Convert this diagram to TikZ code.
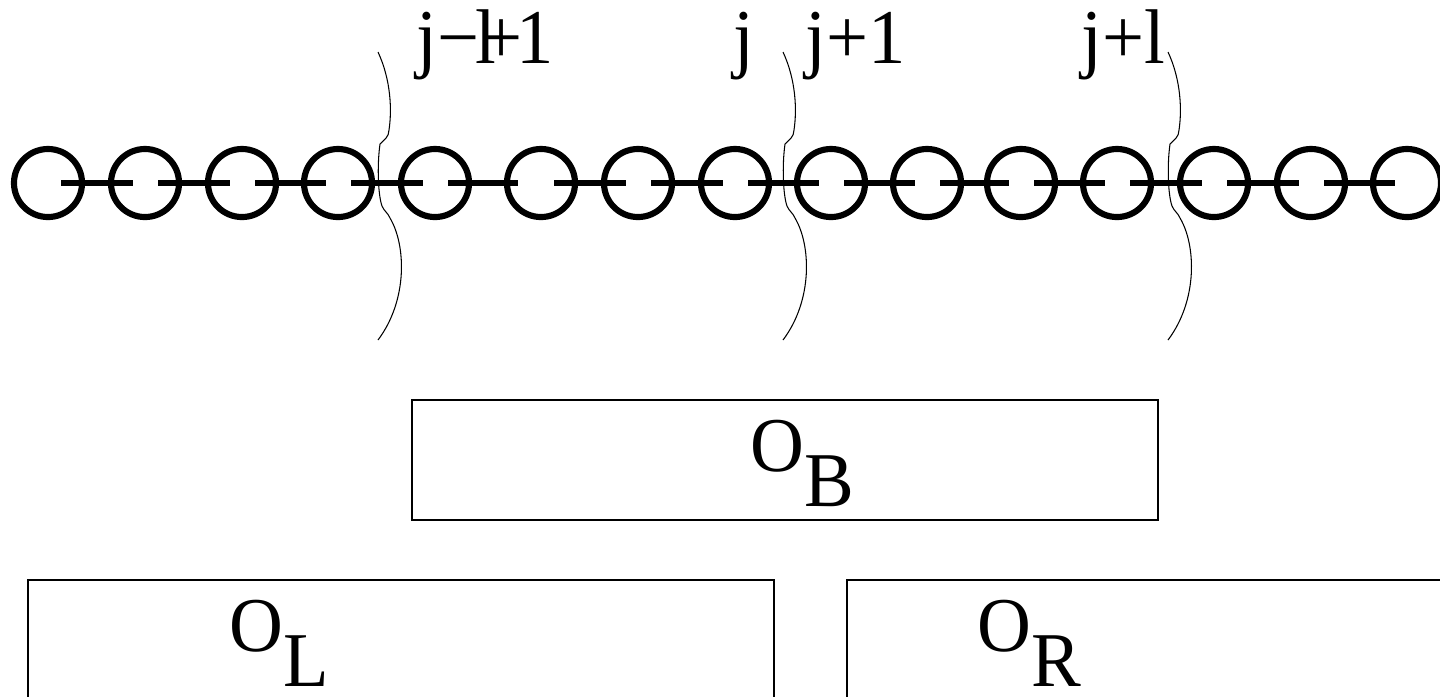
\documentclass[tikz,border=0pt]{standalone}
\usepackage{fontspec}
\setmainfont{Liberation Serif}
\newcommand{\tall}[1]{\scalebox{1}[1.04]{#1}}
\newcommand{\sublow}[1]{\raisebox{-9.8pt}{#1}}
\begin{document}
\begin{tikzpicture}[x=0.01cm, y=-0.01cm,
  bead/.style={circle, draw, line width=1.75pt, minimum size=0.68cm, inner sep=0pt},
  link/.style={line width=1.85pt, shorten <=3.7pt, shorten >=3.4pt},
  panel/.style={draw, line width=0.45pt, minimum width=7.46cm, minimum height=1.2cm,
                inner sep=0pt, anchor=north west},
  cut/.style={line width=0.3pt},
  lab/.style={font=\fontsize{21.2}{25}\selectfont, inner sep=0pt, anchor=base west}]
\useasboundingbox (0,0) rectangle (1440,696);
\clip (0,0) rectangle (1440,696);

% chain of sites
\foreach \i/\x in {1/48,2/145,3/242,4/338,5/435,6/541,7/638,8/735,
                   9/831,10/927,11/1021,12/1117,13/1214,14/1311,15/1407}
  \node[bead] (c\i) at (\x,183) {};

% bonds between neighbouring sites
\foreach \a/\b in {1/2,2/3,3/4,4/5,6/7,7/8,8/9,9/10,10/11,11/12,12/13,13/14,14/15}
  \draw[link] (c\a.center) -- (c\b.center);
\draw[link, shorten >=6.5pt] (c5.center) -- (c6.center);

% cuts separating the blocks
\foreach \bx in {378,783,1168}
  \draw[cut, shift={(\bx,0)}]
    (0,52) .. controls (13,80) and (14,110) .. (11,130)
           .. controls (11,137) and (6,140) .. (2,144)
           .. controls (-1,165) and (0,195) .. (4,206)
           .. controls (6,211) and (10,213) .. (12,218)
           .. controls (28,245) and (30,300) .. (0,340);

% site labels
\node[lab] (l1) at (416,63) {\tall{j−\kern-0.06em l\kern-0.2em+\kern-0.09em 1}};
\node[lab] (l2) at (733,63) {\tall{j}};
\node[lab] (l3) at (805,63) {\tall{j+1}};
\node[lab] (l4) at (1081,63) {\tall{j+l}};

% operator blocks
\node[panel] (pb) at (411,399) {};
\node[panel] (pl) at (27,579) {};
\node[panel] (pr) at (846,579) {};

\node[lab] (tb) at (750,471) {\tall{O\sublow{B}}};
\node[lab] (tl) at (229,651) {\tall{O\sublow{L}}};
\node[lab] (tr) at (977,651) {\tall{O\sublow{R}}};
\end{tikzpicture}
\end{document}
